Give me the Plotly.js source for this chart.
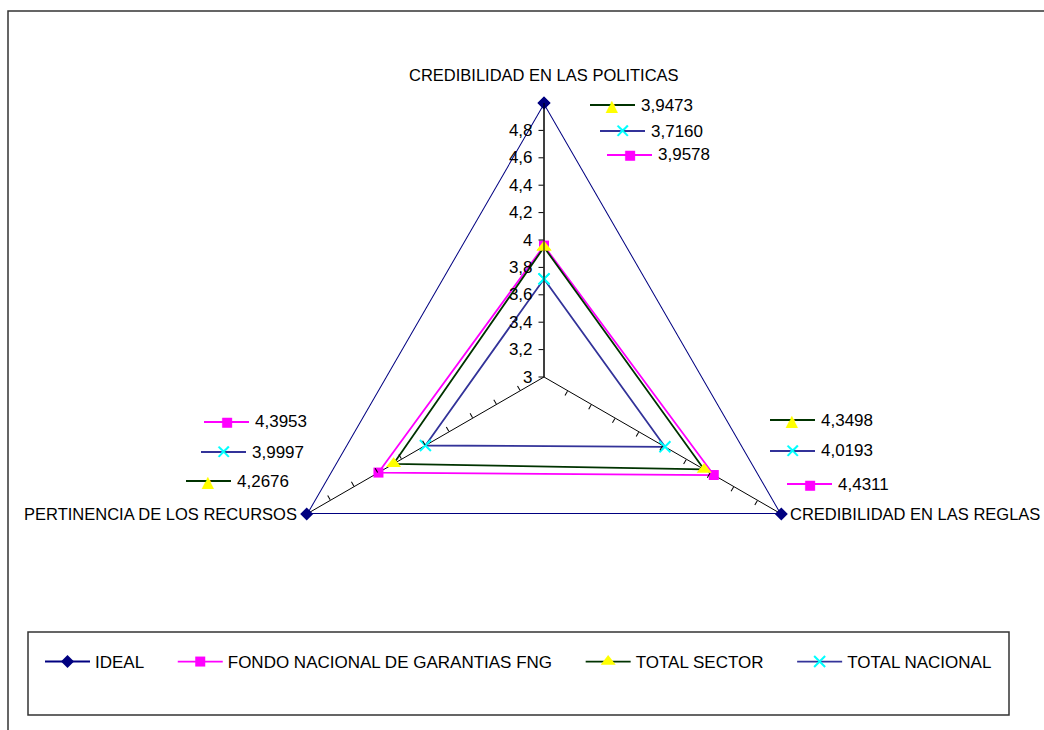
<!DOCTYPE html>
<html>
<head>
<meta charset="utf-8">
<script src="https://cdn.plot.ly/plotly-3.0.1.min.js"></script>
<style>html,body{margin:0;padding:0;background:#fff}#chart{width:1044px;height:730px}</style>
</head>
<body>
<div id="chart"></div>
<script>
// ---- data ----
var categories = ['CREDIBILIDAD EN LAS POLITICAS', 'CREDIBILIDAD EN LAS REGLAS', 'PERTINENCIA DE LOS RECURSOS'];
var seriesNames = ['IDEAL', 'FONDO NACIONAL DE GARANTIAS FNG', 'TOTAL SECTOR', 'TOTAL NACIONAL'];
var ideal = [5, 5, 5];
var fng = [3.9578, 4.4311, 4.3953];
var sector = [3.9473, 4.3498, 4.2676];
var nacional = [3.7160, 4.0193, 3.9997];
var radialTicks = [3, 3.2, 3.4, 3.6, 3.8, 4, 4.2, 4.4, 4.6, 4.8];

var W = 1044, H = 730;
function px(x) { return x / W; }
function py(y) { return 1 - y / H; }
function closeArr(a) { return a.concat([a[0]]); }
function fmt(v) { return v.toFixed(4).replace('.', ','); }
var PAD = '\u00a0\u00a0\u00a0\u00a0\u00a0';

var styles = {
  ideal:    {line: '#000080', marker: '#000080', symbol: 'diamond', size: 10, glyph: '\u25C6', gsize: 12},
  fng:      {line: '#FF00FF', marker: '#FF00FF', symbol: 'square', size: 10, glyph: '\u25A0', gsize: 13},
  sector:   {line: '#003300', marker: '#FFFF00', symbol: 'triangle-up', size: 13, glyph: '\u25B2', gsize: 16},
  nacional: {line: '#333399', marker: '#00FFFF', symbol: 'x-thin-open', size: 11, glyph: '\u2715', gsize: 20}
};

function mk(name, vals, st, w) {
  return {
    type: 'scatterpolar', mode: 'lines+markers', name: name + PAD,
    r: closeArr(vals), theta: closeArr(categories),
    line: {color: st.line, width: w},
    marker: {color: st.marker, symbol: st.symbol, size: st.size,
             line: {color: st.marker, width: st.symbol === 'x-thin-open' ? 2 : 0}},
    cliponaxis: false, hoverinfo: 'skip'
  };
}

// helper empty traces so the tick-only overlay subplots are drawn
function blank(sp) {
  return {type: 'scatterpolar', mode: 'lines', r: [], theta: [], subplot: sp, showlegend: false, hoverinfo: 'skip'};
}

var data = [
  blank('polar2'), blank('polar3'),
  mk(seriesNames[0], ideal, styles.ideal, 2),
  mk(seriesNames[1], fng, styles.fng, 1.8),
  mk(seriesNames[2], sector, styles.sector, 1.8),
  mk(seriesNames[3], nacional, styles.nacional, 1.8)
];

var FONT = 'Liberation Sans, Arial, sans-serif';

// callout labels: [series key, values array, category index, lineStartX, centerY]
var callouts = [
  ['sector', sector, 0, 590, 105],
  ['nacional', nacional, 0, 600, 131],
  ['fng', fng, 0, 607, 155],
  ['sector', sector, 1, 770, 420],
  ['nacional', nacional, 1, 770, 451],
  ['fng', fng, 1, 787, 484],
  ['fng', fng, 2, 204, 422],
  ['nacional', nacional, 2, 201, 452],
  ['sector', sector, 2, 186, 481]
];

var shapes = [
  {type: 'rect', xref: 'paper', yref: 'paper', x0: px(8), x1: 1.02, y0: -0.02, y1: py(11),
   line: {color: '#333333', width: 1.5}, fillcolor: 'rgba(0,0,0,0)', layer: 'below'},
  {type: 'rect', xref: 'paper', yref: 'paper', x0: px(28), x1: px(1009), y0: py(715), y1: py(632),
   line: {color: '#333333', width: 1.5}, fillcolor: 'rgba(0,0,0,0)', layer: 'below'}
];
var annotations = [];
callouts.forEach(function (c) {
  var st = styles[c[0]];
  var x0 = c[3], y = c[4], len = 45;
  shapes.push({type: 'line', xref: 'paper', yref: 'paper', x0: px(x0), x1: px(x0 + len), y0: py(y), y1: py(y),
               line: {color: st.line, width: 1.8}});
  annotations.push({xref: 'paper', yref: 'paper', x: px(x0 + len / 2), y: py(y), xanchor: 'center', yanchor: 'middle',
                    text: st.glyph, showarrow: false,
                    font: {family: 'DejaVu Sans', size: st.gsize, color: st.marker}});
  annotations.push({xref: 'paper', yref: 'paper', x: px(x0 + len + 4), y: py(y), xanchor: 'left', yanchor: 'middle',
                    text: fmt(c[1][c[2]]), showarrow: false,
                    font: {family: FONT, size: 17, color: '#000000'}});
});

// category labels around the radar
var catLabelPos = [
  {x: 544, y: 75, xa: 'center'},
  {x: 788, y: 514, xa: 'left'},
  {x: 299, y: 514, xa: 'right'}
];
categories.forEach(function (cat, i) {
  var p = catLabelPos[i];
  annotations.push({xref: 'paper', yref: 'paper', x: px(p.x), y: py(p.y), xanchor: p.xa, yanchor: 'middle',
                    text: cat, showarrow: false,
                    font: {family: FONT, size: 16.5, color: '#000000'}});
});

var R = 274, CX = 544, CY = 377;
var domain = {x: [px(CX - R), px(CX + R)], y: [py(CY + R), py(CY - R)]};

function tickOverlay(angle) {
  return {
    domain: domain, bgcolor: 'rgba(0,0,0,0)', gridshape: 'linear',
    angularaxis: {visible: false, rotation: 90, direction: 'clockwise'},
    radialaxis: {range: [3, 5], angle: angle, showgrid: false, showline: false,
                 tickvals: radialTicks.slice(1), ticks: 'outside', ticklen: 5, tickcolor: '#000000',
                 showticklabels: false}
  };
}

var layout = {
  width: W, height: H,
  margin: {l: 0, r: 0, t: 0, b: 0},
  paper_bgcolor: '#ffffff',
  separators: ',.',
  font: {family: FONT, size: 16, color: '#000000'},
  showlegend: true,
  legend: {orientation: 'h', x: px(40), xanchor: 'left', y: py(662), yanchor: 'middle',
           itemwidth: 45,
           font: {family: FONT, size: 17, color: '#000000'}, bgcolor: 'rgba(0,0,0,0)'},
  polar: {
    domain: domain,
    bgcolor: '#ffffff',
    gridshape: 'linear',
    angularaxis: {
      rotation: 90, direction: 'clockwise',
      showgrid: true, gridcolor: '#000000', gridwidth: 1,
      showline: false, ticks: '', showticklabels: false
    },
    radialaxis: {
      range: [3, 5], angle: 90, side: 'counterclockwise',
      showgrid: false, showline: true, linecolor: '#000000', linewidth: 1,
      tickvals: radialTicks, ticks: 'outside', ticklen: 5, tickcolor: '#000000',
      tickfont: {family: FONT, size: 17, color: '#000000'},
      tickangle: 90
    }
  },
  polar2: tickOverlay(-30),
  polar3: tickOverlay(210),
  shapes: shapes,
  annotations: annotations
};

Plotly.newPlot('chart', data, layout, {displayModeBar: false, staticPlot: true});
</script>
</body>
</html>
